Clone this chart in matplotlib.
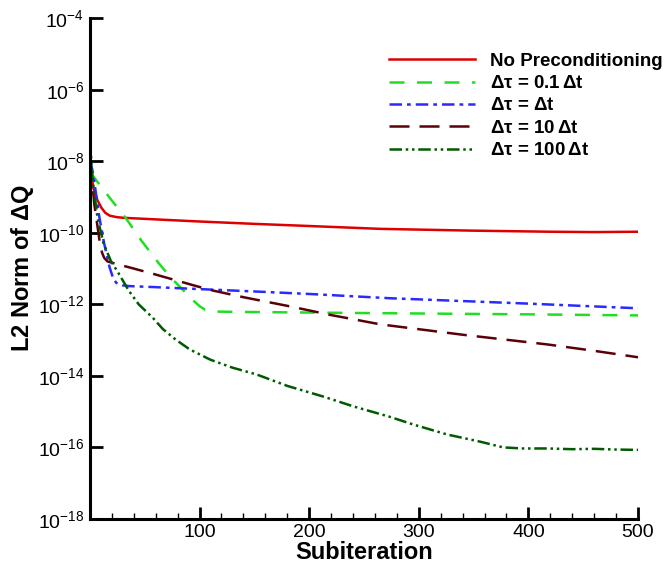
import numpy as np
import matplotlib
matplotlib.use('Agg')
import matplotlib.pyplot as plt
from matplotlib.ticker import FuncFormatter, MultipleLocator, NullLocator

plt.rcParams['font.family'] = ['Liberation Sans', 'DejaVu Sans']
plt.rcParams['mathtext.default'] = 'regular'

# values (log10 of the L2 norm)
x_none = [0.5, 3, 7, 10.5, 14, 18, 24, 30, 50, 97, 150, 200, 265, 350, 420, 460, 500]
y_none = [-8.1, -8.74, -9.1, -9.3, -9.44, -9.52, -9.56, -9.58, -9.61, -9.68, -9.75, -9.81, -9.89,
          -9.94, -9.97, -9.98, -9.97]

x_01 = [0.5, 4, 18, 33, 47, 62.5, 74, 85, 94.5, 100, 105, 110, 130, 200, 274, 400, 500]
y_01 = [-8.3, -8.46, -9.02, -9.6, -10.22, -10.84, -11.26, -11.6, -11.9, -12.05, -12.15, -12.2,
        -12.21, -12.23, -12.25, -12.28, -12.31]

x_1 = [0.5, 2.9, 6, 8.7, 13, 18, 21, 24, 30, 36, 60, 97, 150, 200, 274, 400, 500]
y_1 = [-8.0, -8.35, -9.0, -9.58, -10.3, -10.97, -11.25, -11.4, -11.47, -11.49, -11.52, -11.57,
       -11.64, -11.71, -11.83, -11.98, -12.11]

x_10 = [0.5, 4, 8.7, 11, 13, 16, 24, 40, 58, 97, 113, 140, 183, 220, 265, 340, 417, 460, 500]
y_10 = [-8.0, -9.2, -10.2, -10.55, -10.7, -10.8, -10.87, -11.0, -11.15, -11.49, -11.62, -11.8,
        -12.06, -12.3, -12.56, -12.85, -13.12, -13.3, -13.48]

x_100 = [0, 2.5, 7, 12.5, 19, 26.5, 35.5, 44.5, 57.5, 66.5, 78, 91, 110, 130, 152, 180, 213, 240,
         273, 295, 326, 356, 377, 395, 417, 440, 460, 480, 500]
y_100 = [-7.4, -8.54, -9.6, -10.3, -10.78, -11.15, -11.62, -12.0, -12.38, -12.69, -12.98, -13.26,
         -13.55, -13.77, -13.96, -14.28, -14.58, -14.85, -15.14, -15.36, -15.64, -15.84, -16.0,
         -16.03, -16.03, -16.05, -16.04, -16.06, -16.07]

labels = ['No Preconditioning', r'$\Delta\tau$ = 0.1$\,\Delta$t', r'$\Delta\tau$ = $\Delta$t',
          r'$\Delta\tau$ = 10$\,\Delta$t', r'$\Delta\tau$ = 100$\,\Delta$t']

fig = plt.figure(figsize=(6.66, 5.69), dpi=100)
ax = fig.add_axes([0.135, 0.088, 0.823, 0.88])

lw = 1.8
ax.plot(x_none, 10 ** np.array(y_none), color='#dd0000', lw=lw, label=labels[0])
ax.plot(x_01, 10 ** np.array(y_01), color='#22dd22', lw=lw, dashes=(6, 5), label=labels[1])
ax.plot(x_1, 10 ** np.array(y_1), color='#2a2aff', lw=lw, dashes=(5, 2, 1.5, 2), label=labels[2])
ax.plot(x_10, 10 ** np.array(y_10), color='#5a0008', lw=lw, dashes=(8, 4), label=labels[3])
ax.plot(x_100, 10 ** np.array(y_100), color='#005a00', lw=lw, dashes=(5, 1.5, 1, 1.5, 1, 1.5), label=labels[4])

ax.set_yscale('log')
ax.set_xlim(0, 500)
ax.set_ylim(1e-18, 1e-4)
ax.set_yticks([10.0 ** k for k in range(-18, -3, 2)])
ax.yaxis.set_minor_locator(NullLocator())
ax.yaxis.set_major_formatter(FuncFormatter(lambda v, p: r'$10^{%d}$' % round(np.log10(v))))
ax.set_xticks([100, 200, 300, 400, 500])
ax.xaxis.set_minor_locator(MultipleLocator(20))

for s in ['top', 'right']:
    ax.spines[s].set_visible(False)
for s in ['left', 'bottom']:
    ax.spines[s].set_linewidth(2.2)
ax.tick_params(which='major', direction='in', length=9, width=2, labelsize=14, pad=4)
ax.tick_params(which='minor', direction='in', length=4, width=1)

ax.set_xlabel('Subiteration', fontsize=17, fontweight='bold', labelpad=0)
ax.set_ylabel(r'L2 Norm of $\Delta$Q', fontsize=17, fontweight='bold', labelpad=1)

leg = ax.legend(loc='upper left', bbox_to_anchor=(0.515, 0.965), frameon=False,
                handlelength=4.6, handletextpad=0.8, labelspacing=0.28,
                prop={'weight': 'bold', 'size': 13.5})

fig.savefig('out.png', dpi=100)
